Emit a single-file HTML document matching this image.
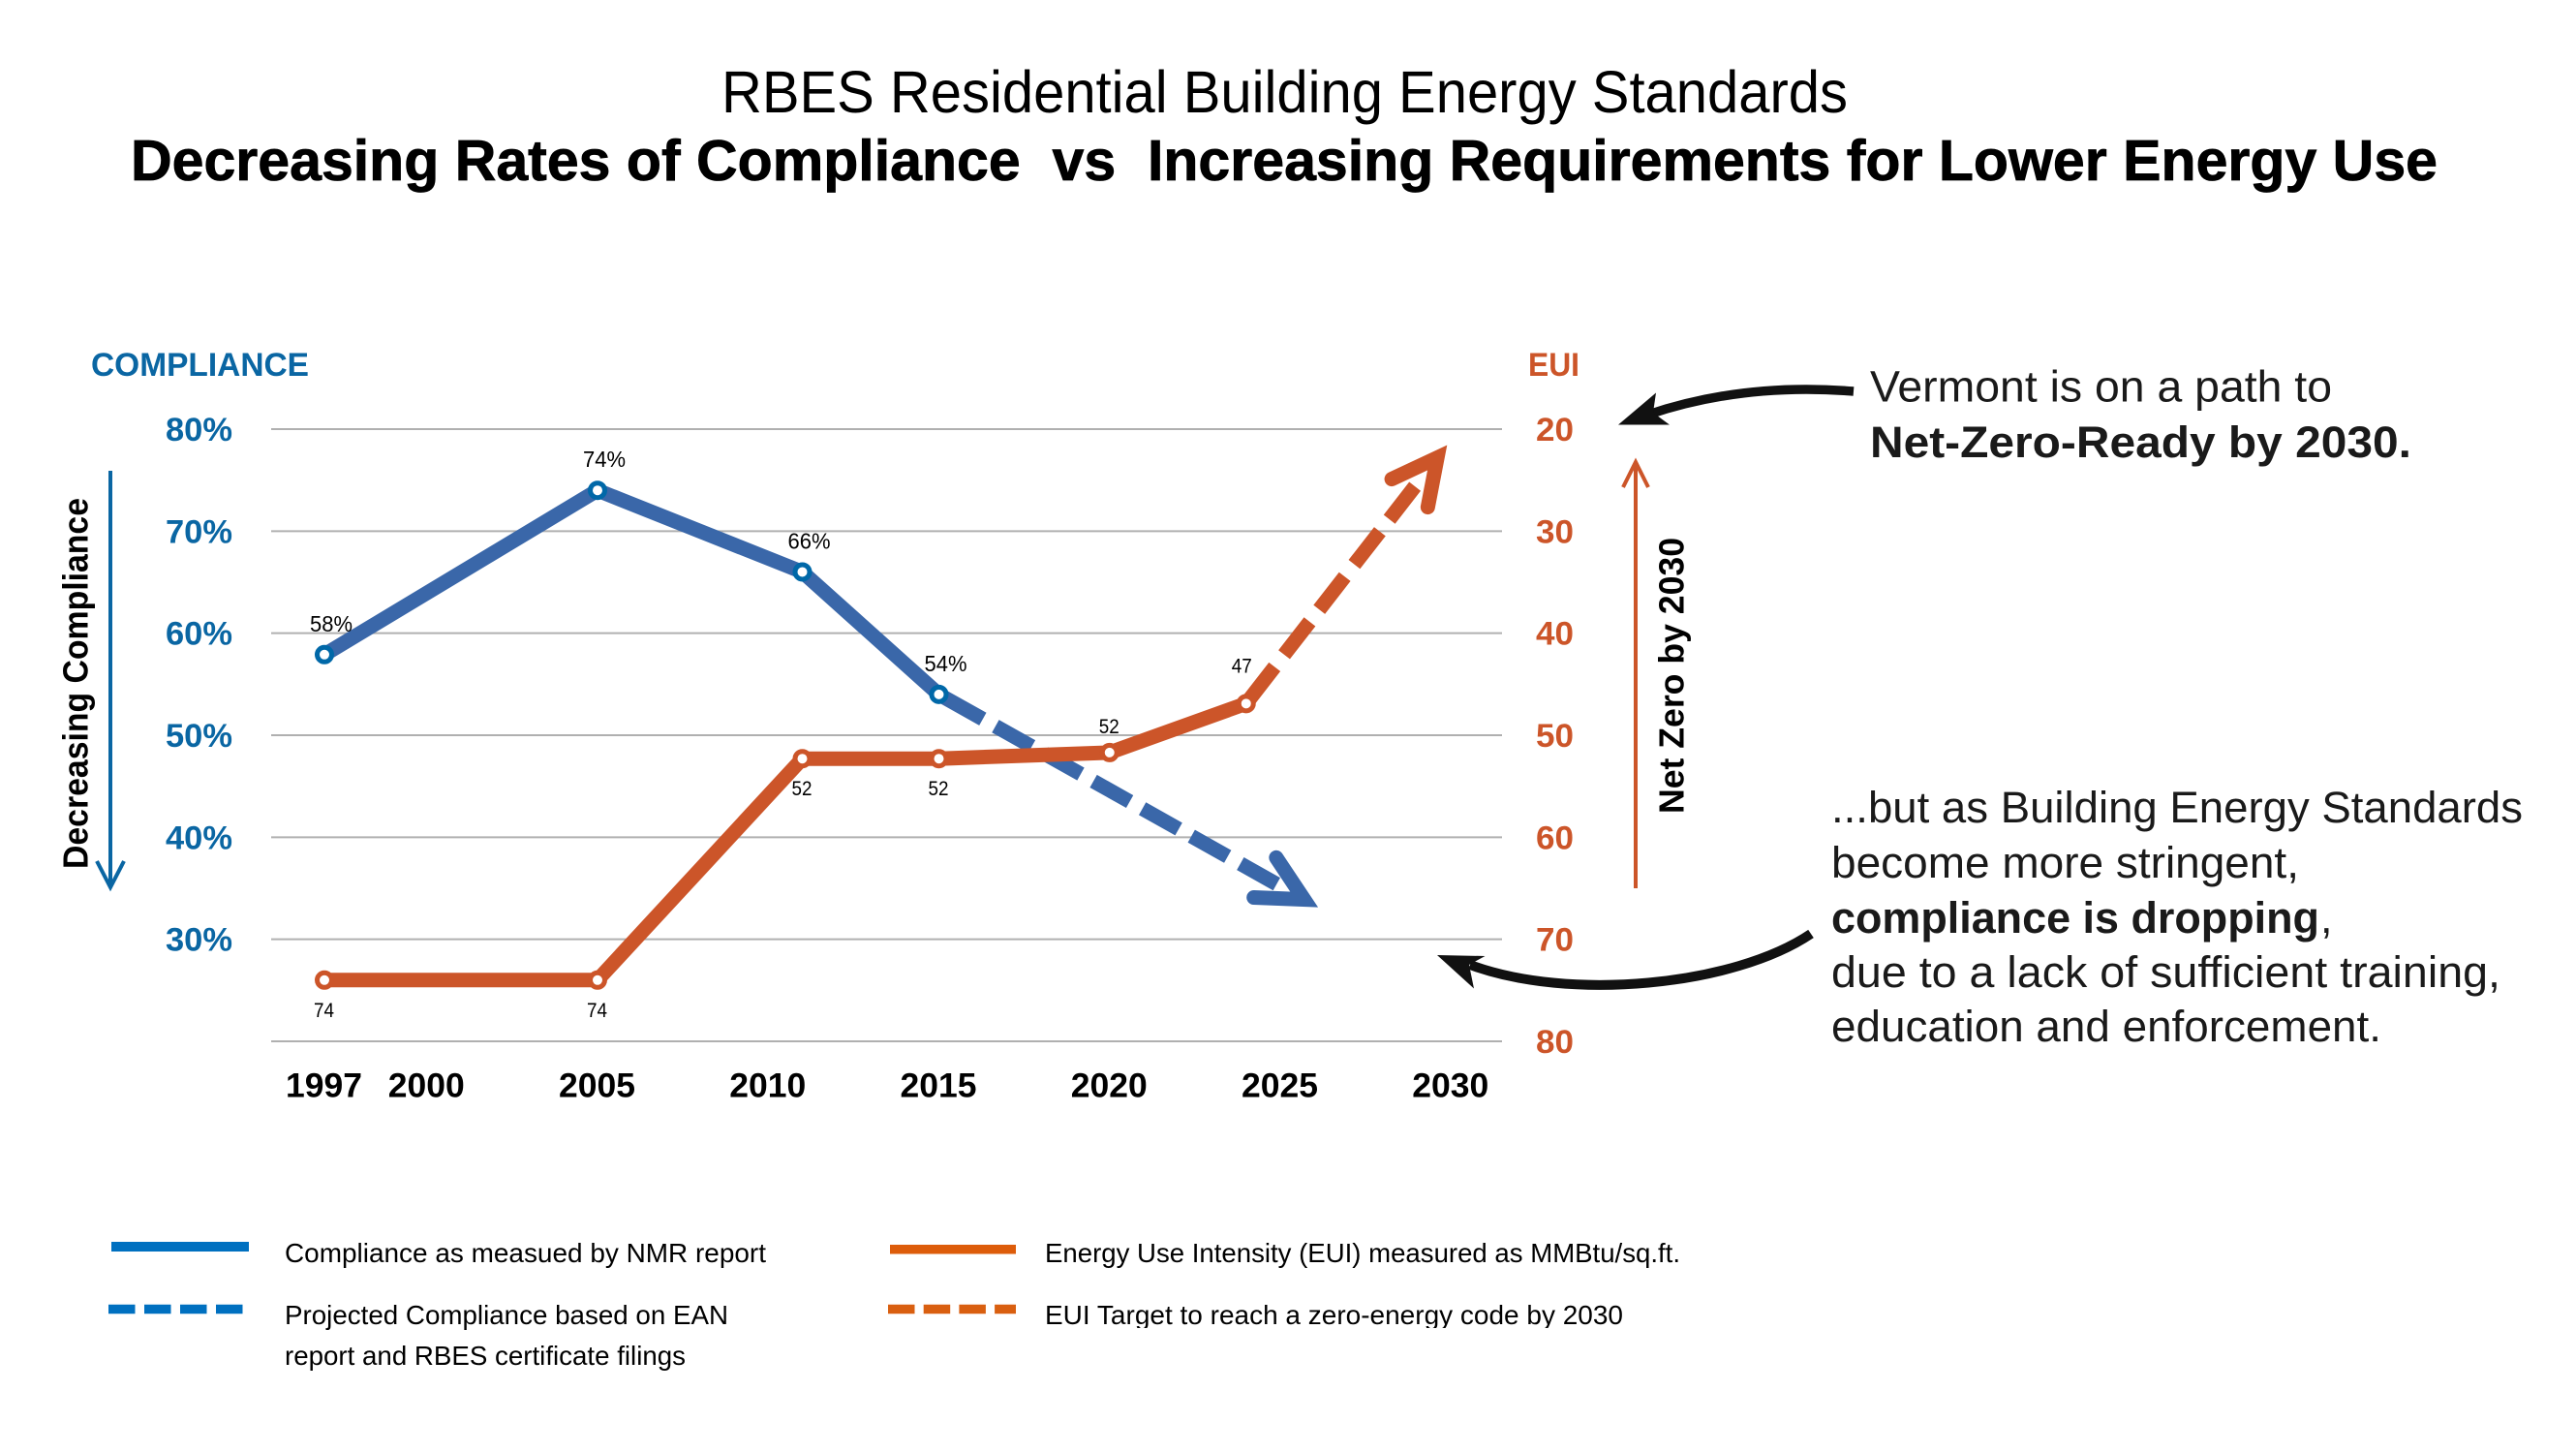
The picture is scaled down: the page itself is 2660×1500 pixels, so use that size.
<!DOCTYPE html>
<html lang="en">
<head>
<meta charset="utf-8">
<title>RBES Residential Building Energy Standards</title>
<style>
html,body{margin:0;padding:0;background:#fff;width:2660px;height:1500px;overflow:hidden}
svg{display:block;font-family:"Liberation Sans",sans-serif}
text{white-space:pre}
</style>
</head>
<body>
<svg id="chart" xmlns="http://www.w3.org/2000/svg" width="2660" height="1500" viewBox="0 0 2660 1500">
  <rect width="2660" height="1500" fill="#fff"/>

  <text x="745" y="116" font-size="61" fill="#000" textLength="1163" lengthAdjust="spacingAndGlyphs">RBES Residential Building Energy Standards</text>
  <text x="135" y="186" font-size="59" font-weight="700" fill="#000" stroke="#000" stroke-width="0.8" textLength="2382" lengthAdjust="spacingAndGlyphs">Decreasing Rates of Compliance  vs  Increasing Requirements for Lower Energy Use</text>

  <text x="94" y="388" font-size="34" font-weight="700" fill="#0a66a3" textLength="225" lengthAdjust="spacingAndGlyphs">COMPLIANCE</text>
  <text x="1578" y="388" font-size="34" font-weight="700" fill="#cc5529" textLength="53" lengthAdjust="spacingAndGlyphs">EUI</text>

  <g id="grid"></g>
  <g id="left-ticks"></g>
  <g id="right-ticks"></g>
  <g id="x-ticks"></g>

  <g id="series"></g>

  <g fill="none" stroke="#0a66a3" stroke-width="4">
    <path d="M114 486V916"/>
    <path d="M100 889L114 916L128 889"/>
  </g>
  <text transform="translate(90.5 897) rotate(-90)" font-size="36" font-weight="700" fill="#000" textLength="383" lengthAdjust="spacingAndGlyphs">Decreasing Compliance</text>

  <g fill="none" stroke="#cc5529" stroke-width="4">
    <path d="M1689 917V477"/>
    <path d="M1676 503L1689 477L1702 503"/>
  </g>
  <text transform="translate(1738.5 840) rotate(-90)" font-size="36" font-weight="700" fill="#000" textLength="285" lengthAdjust="spacingAndGlyphs">Net Zero by 2030</text>

  <g>
    <path d="M1914 404C1840 398 1770 405 1702 428" fill="none" stroke="#111" stroke-width="9.5"/>
    <path d="M1671 438.5L1710 405.5L1707 426L1724 438.5Z" fill="#111"/>
  </g>
  <g>
    <path d="M1870 964C1790 1018 1620 1034 1518 996" fill="none" stroke="#111" stroke-width="10"/>
    <path d="M1484 986L1533.5 987L1517 996L1522 1020.5Z" fill="#111"/>
  </g>

  <g font-size="45" fill="#1a1a1a">
    <text x="1931" y="414.5" textLength="477" lengthAdjust="spacingAndGlyphs">Vermont is on a path to</text>
    <text x="1931" y="472" font-weight="700" textLength="559" lengthAdjust="spacingAndGlyphs">Net-Zero-Ready by 2030.</text>
  </g>
  <g font-size="45" fill="#1a1a1a">
    <text x="1891" y="849" textLength="714" lengthAdjust="spacingAndGlyphs">...but as Building Energy Standards</text>
    <text x="1891" y="906" textLength="483" lengthAdjust="spacingAndGlyphs">become more stringent,</text>
    <text x="1891" y="963" font-weight="700" textLength="504" lengthAdjust="spacingAndGlyphs">compliance is dropping</text>
    <text x="2396" y="963">,</text>
    <text x="1891" y="1019" textLength="691" lengthAdjust="spacingAndGlyphs">due to a lack of sufficient training,</text>
    <text x="1891" y="1075" textLength="568" lengthAdjust="spacingAndGlyphs">education and enforcement.</text>
  </g>

  <g>
    <g>
      <rect x="115" y="1282" width="142" height="10" fill="#0070c0"/>
      <text x="294" y="1303" font-size="28" fill="#000" textLength="497" lengthAdjust="spacingAndGlyphs">Compliance as measued by NMR report</text>
    </g>
    <g>
      <path d="M112 1351.5H251" stroke="#0070c0" stroke-width="9.5" stroke-dasharray="27.5 9.5" fill="none"/>
      <text x="294" y="1367" font-size="28" fill="#000" textLength="458" lengthAdjust="spacingAndGlyphs">Projected Compliance based on EAN</text>
      <text x="294" y="1409" font-size="28" fill="#000" textLength="414" lengthAdjust="spacingAndGlyphs">report and RBES certificate filings</text>
    </g>
    <g>
      <rect x="919" y="1285" width="130" height="9.5" fill="#dd5c0a"/>
      <text x="1079" y="1303" font-size="28" fill="#000" textLength="656" lengthAdjust="spacingAndGlyphs">Energy Use Intensity (EUI) measured as MMBtu/sq.ft.</text>
    </g>
    <g>
      <path d="M917 1351.5H1049" stroke="#d95f10" stroke-width="9.5" stroke-dasharray="27.5 9.2" fill="none"/>
      <text x="1079" y="1367" font-size="28" fill="#000" textLength="597" lengthAdjust="spacingAndGlyphs">EUI Target to reach a zero-energy code by 2030</text>
      <rect x="1070" y="1371" width="620" height="20" fill="#fff"/>
    </g>
  </g>
</svg>

<script>
// ---- chart data ----
const complianceYears = [1997, 2005, 2011, 2015];
const complianceValues = [57.9, 74, 66, 54];
const complianceLabels = ['58%', '74%', '66%', '54%'];

const complianceProjectionYears = [2015, 2025.7];
const complianceProjectionValues = [54, 33.9];

const euiYears = [1997, 2005, 2011, 2015, 2020, 2024];
const euiValues = [74, 74, 52.3, 52.3, 51.7, 46.9];
const euiLabels = ['74', '74', '52', '52', '52', '47'];

const euiTargetYears = [2024, 2029.6];
const euiTargetValues = [46.9, 22.8];

const xTickYears = [1997, 2000, 2005, 2010, 2015, 2020, 2025, 2030];
const leftTickValues = [80, 70, 60, 50, 40, 30];
const rightTickValues = [20, 30, 40, 50, 60, 70, 80];

// ---- axis functions ----
function xScale(year) { return 335 + (year - 1997) * 35.25; }
function yCompliance(v) { return 443 + (80 - v) * 10.533; }
function yEui(v) { return 443 + (v - 20) * 10.533; }

const NS = 'http://www.w3.org/2000/svg';
function make(parent, tag, attrs, txt) {
  const e = document.createElementNS(NS, tag);
  for (const k in attrs) e.setAttribute(k, attrs[k]);
  if (txt !== undefined) e.textContent = txt;
  parent.appendChild(e);
  return e;
}
function pointsStr(xs, ys) { return xs.map((x, i) => x + ',' + ys[i]).join(' '); }

const BLUE_LINE = '#3a67a9', BLUE_MARK = '#0068a8', ORANGE = '#cc5529';
const LINE_W = 15;

// gridlines
const grid = document.getElementById('grid');
rightTickValues.forEach(v => {
  const l = make(grid, 'line', {x1: 280, x2: 1551, y1: yEui(v), y2: yEui(v), stroke: '#b0b0b0', 'stroke-width': 2});
  
  
});

// left ticks
const leftTicks = document.getElementById('left-ticks');
leftTickValues.forEach(v => {
  const t = make(leftTicks, 'text', {x: 171, y: yCompliance(v) + 12, 'font-size': 34, 'font-weight': 700, fill: '#0a66a3', textLength: 69, lengthAdjust: 'spacingAndGlyphs'}, v + '%');
  
  
});

// right ticks
const rightTicks = document.getElementById('right-ticks');
rightTickValues.forEach(v => {
  const t = make(rightTicks, 'text', {x: 1586, y: yEui(v) + 12, 'font-size': 34, 'font-weight': 700, fill: ORANGE, textLength: 39, lengthAdjust: 'spacingAndGlyphs'}, String(v));
  
  
});

// x ticks
const xTicks = document.getElementById('x-ticks');
xTickYears.forEach(y => {
  const t = make(xTicks, 'text', {x: xScale(y) - 40, y: 1132.5, 'font-size': 35, 'font-weight': 700, fill: '#000', textLength: 79, lengthAdjust: 'spacingAndGlyphs'}, String(y));
  
  
});

const series = document.getElementById('series');

// dashed projection with an open arrowhead at the end
function drawProjection(years, values, yFn, color, dashes, groupName) {
  const g = make(series, 'g', {fill: 'none', stroke: color, 'stroke-width': LINE_W});
  
  
  const x0 = xScale(years[0]), y0 = yFn(values[0]);
  const x1 = xScale(years[years.length - 1]), y1 = yFn(values[values.length - 1]);
  const len = Math.hypot(x1 - x0, y1 - y0);
  const ux = (x1 - x0) / len, uy = (y1 - y0) / len;
  const trim = 30;
  const line = make(g, 'line', {x1: x0, y1: y0, x2: x1 - ux * trim, y2: y1 - uy * trim, 'stroke-dasharray': dashes});
  
  
  const ang = Math.atan2(-uy, -ux), spread = 27 * Math.PI / 180, barb = 52;
  const ax = x1 + Math.cos(ang + spread) * barb, ay = y1 + Math.sin(ang + spread) * barb;
  const bx = x1 + Math.cos(ang - spread) * barb, by = y1 + Math.sin(ang - spread) * barb;
  const head = make(g, 'polyline', {points: ax + ',' + ay + ' ' + x1 + ',' + y1 + ' ' + bx + ',' + by, 'stroke-linecap': 'round', 'stroke-linejoin': 'miter', 'stroke-miterlimit': 10});
  
  
}

// solid line
function drawLine(years, values, yFn, color, name) {
  const p = make(series, 'polyline', {
    points: pointsStr(years.map(xScale), values.map(yFn)),
    fill: 'none', stroke: color, 'stroke-width': LINE_W, 'stroke-linejoin': 'miter'
  });
  
  
}

// markers
function drawMarkers(years, values, yFn, color, name) {
  years.forEach((yr, i) => {
    const c = make(series, 'circle', {cx: xScale(yr), cy: yFn(values[i]), r: 7.5, fill: '#fff', stroke: color, 'stroke-width': 5});
    
    
  });
}

drawProjection(complianceProjectionYears, complianceProjectionValues, yCompliance, BLUE_LINE, '52 15 43 15 43 15 43 15 43 15 43 15 43 15 43', 'compliance-projection');
drawProjection(euiTargetYears, euiTargetValues, yEui, ORANGE, '48 16 43 16 43 16 43 16 43 16 43', 'eui-target');
drawLine(complianceYears, complianceValues, yCompliance, BLUE_LINE, 'compliance-line');
drawLine(euiYears, euiValues, yEui, ORANGE, 'eui-line');
drawMarkers(complianceYears, complianceValues, yCompliance, BLUE_MARK, 'compliance-point');
drawMarkers(euiYears, euiValues, yEui, ORANGE, 'eui-point');

// compliance value labels (above points)
complianceYears.forEach((yr, i) => {
  const t = make(series, 'text', {x: xScale(yr) - 15, y: yCompliance(complianceValues[i]) - 24, 'font-size': 23, fill: '#000', textLength: 44, lengthAdjust: 'spacingAndGlyphs'}, complianceLabels[i]);
  
  
});

// EUI value labels: below the first four points, above the last two
euiYears.forEach((yr, i) => {
  const above = i >= 4;
  const dx = i === 5 ? -15 : -11;
  const dy = i === 5 ? -32 : (above ? -20 : 38);
  const t = make(series, 'text', {x: xScale(yr) + dx, y: yEui(euiValues[i]) + dy, 'font-size': 21, fill: '#000', textLength: 21, lengthAdjust: 'spacingAndGlyphs'}, euiLabels[i]);
  
  
});
</script>
</body>
</html>
